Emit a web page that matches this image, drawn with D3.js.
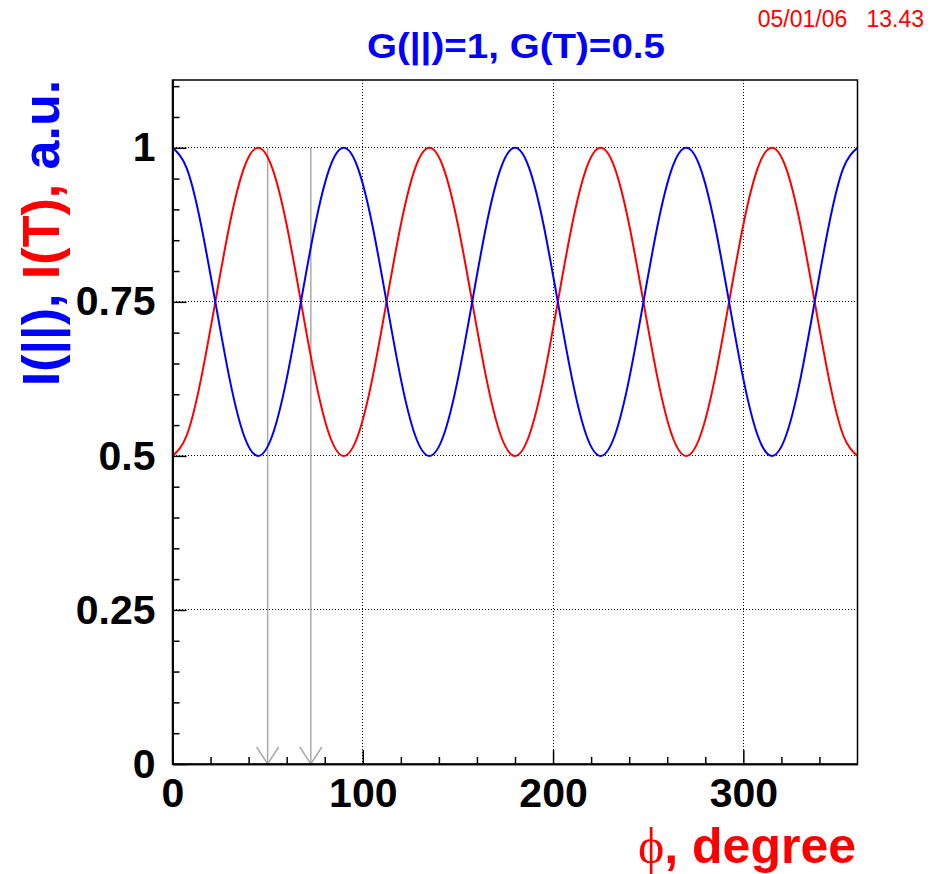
<!DOCTYPE html>
<html>
<head>
<meta charset="utf-8">
<script src="https://cdn.jsdelivr.net/npm/d3@7"></script>
<style>
  body { margin: 0; background: #fff; }
  text { font-family: "Liberation Sans", Arial, sans-serif; }
</style>
</head>
<body>
<div class="chart"></div>
<script>
// polarisation intensities vs. analyser angle

var phi = [0, 7.5, 15, 22.5, 30, 37.5, 45, 52.5, 60, 67.5, 75, 82.5,
  90, 97.5, 105, 112.5, 120, 127.5, 135, 142.5, 150, 157.5, 165, 172.5,
  180, 187.5, 195, 202.5, 210, 217.5, 225, 232.5, 240, 247.5, 255, 262.5,
  270, 277.5, 285, 292.5, 300, 307.5, 315, 322.5, 330, 337.5, 345, 352.5, 360];
var iPar = [1, 0.9665, 0.875, 0.75, 0.625, 0.5335, 0.5, 0.5335, 0.625, 0.75, 0.875, 0.9665,
  1, 0.9665, 0.875, 0.75, 0.625, 0.5335, 0.5, 0.5335, 0.625, 0.75, 0.875, 0.9665,
  1, 0.9665, 0.875, 0.75, 0.625, 0.5335, 0.5, 0.5335, 0.625, 0.75, 0.875, 0.9665,
  1, 0.9665, 0.875, 0.75, 0.625, 0.5335, 0.5, 0.5335, 0.625, 0.75, 0.875, 0.9665, 1];
var iPerp = [0.5, 0.5335, 0.625, 0.75, 0.875, 0.9665, 1, 0.9665, 0.875, 0.75, 0.625, 0.5335,
  0.5, 0.5335, 0.625, 0.75, 0.875, 0.9665, 1, 0.9665, 0.875, 0.75, 0.625, 0.5335,
  0.5, 0.5335, 0.625, 0.75, 0.875, 0.9665, 1, 0.9665, 0.875, 0.75, 0.625, 0.5335,
  0.5, 0.5335, 0.625, 0.75, 0.875, 0.9665, 1, 0.9665, 0.875, 0.75, 0.625, 0.5335, 0.5];
var arrowPhi = [50, 72.7];
var xTicks = [0, 100, 200, 300];
var xMinor = [20, 40, 60, 80, 120, 140, 160, 180, 220, 240, 260, 280, 320, 340];
var yTicks = [0, 0.25, 0.5, 0.75, 1];
var yTickLabels = ["0", "0.25", "0.5", "0.75", "1"];
var yMinor = [0.05, 0.1, 0.15, 0.2, 0.3, 0.35, 0.4, 0.45, 0.55, 0.6, 0.65, 0.7, 0.8, 0.85, 0.9, 0.95, 1.05, 1.1];

var svgWidth = 933;
var svgHeight = 874;
var margin = {top: 80, right: 75.5, bottom: 110, left: 172.5};
var width = svgWidth - margin.left - margin.right;
var height = svgHeight - margin.top - margin.bottom;

var svg = d3.select(".chart").append("svg").attr("width", svgWidth).attr("height", svgHeight);
var chartGroup = svg.append("g").attr("transform", `translate(${margin.left}, ${margin.top})`);

var xScale = d3.scaleLinear().domain([0, 360]).range([0, width]);
var yScale = d3.scaleLinear().domain([0, 1.11]).range([height, 0]);

// grid (dotted, at major ticks)
chartGroup.selectAll(".gx").data(xTicks.slice(1)).enter().append("line")
  .attr("x1", d => xScale(d)).attr("x2", d => xScale(d)).attr("y1", 0).attr("y2", height)
  .attr("stroke", "#000").attr("stroke-width", 1).attr("stroke-dasharray", "1,2")
  .attr("shape-rendering", "crispEdges");
chartGroup.selectAll(".gy").data(yTicks.slice(1)).enter().append("line")
  .attr("x1", 0).attr("x2", width).attr("y1", d => yScale(d)).attr("y2", d => yScale(d))
  .attr("stroke", "#000").attr("stroke-width", 1).attr("stroke-dasharray", "1,2")
  .attr("shape-rendering", "crispEdges");

// arrows
var arrows = chartGroup.selectAll(".arrow").data(arrowPhi).enter().append("g")
  .attr("stroke", "#aaa").attr("stroke-width", 1.5).attr("fill", "none");
arrows.append("line").attr("x1", d => xScale(d)).attr("x2", d => xScale(d))
  .attr("y1", yScale(1)).attr("y2", yScale(0));
arrows.append("path").attr("d", d => `M${xScale(d) - 11},${yScale(0) - 17}L${xScale(d)},${yScale(0)}L${xScale(d) + 11},${yScale(0) - 17}`);

// curves
var pts = phi.map((p, i) => ({p: p, a: iPar[i], b: iPerp[i]}));
var linePar = d3.line().x(d => xScale(d.p)).y(d => yScale(d.a)).curve(d3.curveNatural);
var linePerp = d3.line().x(d => xScale(d.p)).y(d => yScale(d.b)).curve(d3.curveNatural);
chartGroup.append("path").datum(pts).attr("d", linePerp).attr("fill", "none").attr("stroke", "#ff0000").attr("stroke-width", 2);
chartGroup.append("path").datum(pts).attr("d", linePar).attr("fill", "none").attr("stroke", "#0000ff").attr("stroke-width", 2);

// frame
chartGroup.append("rect").attr("width", width).attr("height", height)
  .attr("fill", "none").attr("stroke", "#000").attr("stroke-width", 1.5);

// axes, ticks pointing inside
var bottomAxis = d3.axisBottom(xScale).tickValues(xTicks).tickSize(-14).tickSizeOuter(0).tickPadding(14);
var bottomMinor = d3.axisBottom(xScale).tickValues(xMinor).tickSize(-7).tickSizeOuter(0).tickFormat("");
var leftAxis = d3.axisLeft(yScale).tickValues(yTicks).tickSize(-14).tickSizeOuter(0).tickPadding(17)
  .tickFormat((d, i) => yTickLabels[i]);
var leftMinor = d3.axisLeft(yScale).tickValues(yMinor).tickSize(-7).tickSizeOuter(0).tickFormat("");

[chartGroup.append("g").attr("transform", `translate(0, ${height})`).call(bottomAxis),
 chartGroup.append("g").attr("transform", `translate(0, ${height})`).call(bottomMinor),
 chartGroup.append("g").call(leftAxis),
 chartGroup.append("g").call(leftMinor)].forEach(function(g) {
  g.select(".domain").attr("stroke", "#000").attr("stroke-width", 1.5);
  g.selectAll(".tick line").attr("stroke", "#000").attr("stroke-width", 1.5);
  g.selectAll(".tick text").attr("fill", "#000")
    .style("font-family", "'Liberation Sans', Arial, sans-serif")
    .style("font-size", "41px").style("font-weight", "bold");
});

// title and date
svg.append("text").attr("x", 516).attr("y", 58).attr("text-anchor", "middle")
  .attr("textLength", 298).attr("lengthAdjust", "spacingAndGlyphs")
  .style("font-size", "35px").style("font-weight", "bold").style("fill", "#0000ff")
  .text("G(||)=1, G(T)=0.5");
svg.append("text").attr("x", 924).attr("y", 27).attr("text-anchor", "end")
  .style("font-size", "23px").style("fill", "#ff0000")
  .text("05/01/06   13.43").attr("xml:space", "preserve").style("white-space", "pre");

// axis titles
var xTitle = svg.append("text").attr("x", 856).attr("y", 863).attr("text-anchor", "end")
  .style("font-size", "50px").style("font-weight", "bold");
xTitle.append("tspan").style("font-family", "'Liberation Serif', 'DejaVu Serif', serif")
  .style("font-weight", "normal").style("fill", "#ff0000").text("ϕ");
xTitle.append("tspan").style("fill", "#ff0000").text(", degree");

var yTitle = svg.append("text").attr("transform", "translate(59, 233) rotate(-90)")
  .attr("text-anchor", "middle").style("font-size", "52px").style("font-weight", "bold");
yTitle.append("tspan").style("fill", "#0000ff").text("I(||),");
yTitle.append("tspan").style("fill", "#ff0000").text(" I(T),");
yTitle.append("tspan").style("fill", "#0000ff").text(" a.u.");
</script>
</body>
</html>
